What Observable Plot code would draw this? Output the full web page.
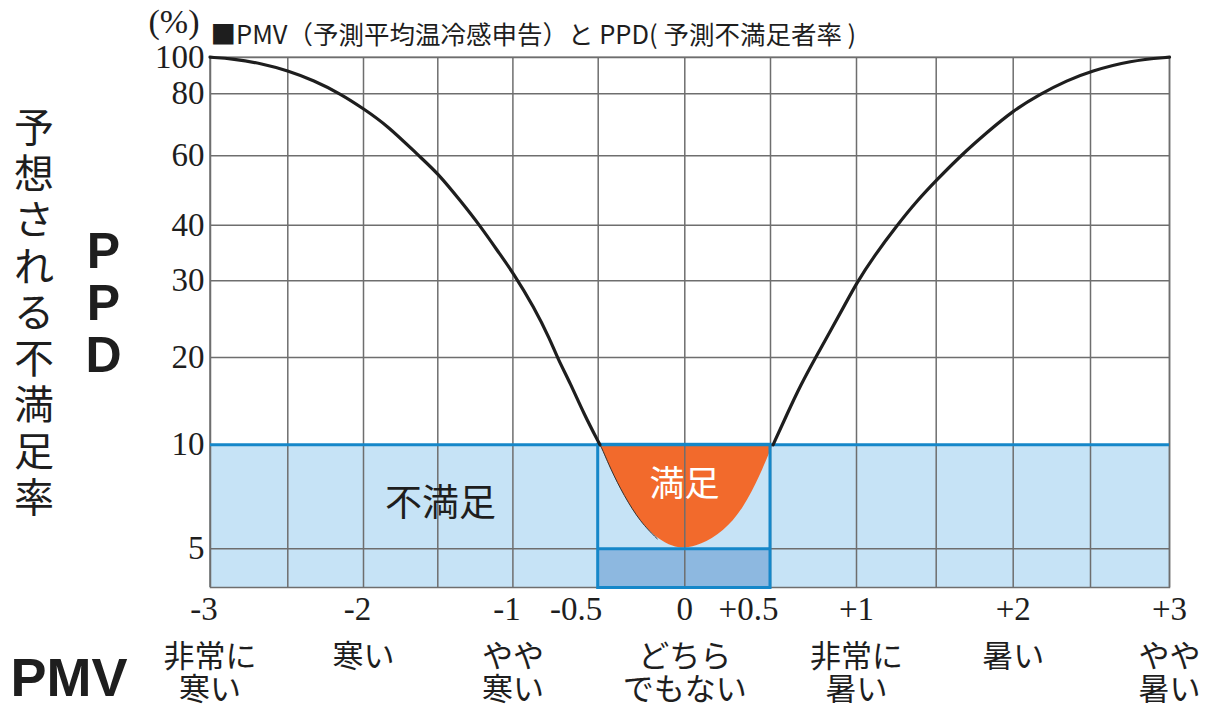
<!DOCTYPE html>
<html><head><meta charset="utf-8">
<script src="https://cdn.jsdelivr.net/npm/d3@7"></script>
<script src="https://cdn.jsdelivr.net/npm/@observablehq/plot@0.6"></script>
<style>body{margin:0;background:#fff;} svg{display:block}</style>
</head><body><div id="chart"></div>
<script>
// PMV–PPD curve
const pmv = [-3,-2.847,-2.676,-2.5,-2.328,-2.152,-2.0,-1.84,-1.628,-1.5,-1.349,-1.221,-1.082,-1.0,-0.877,-0.779,-0.74,-0.662,-0.584,-0.49,-0.477,-0.429,-0.352,-0.256,-0.159,-0.064,0,0.092,0.228,0.344,0.442,0.515,0.597,0.674,0.762,0.849,0.926,1.0,1.109,1.255,1.381,1.5,1.658,1.831,2.0,2.177,2.349,2.5,2.753,3];
const ppd = [100,99.1,96.7,92.7,87.3,80,75.2,69.8,60,55.0,47.0,40,34.6,31.5,26.6,22.2,20,17.0,13.55,10,9.81,8.85,7.56,6.28,5.48,5.08,5.0,5.16,5.8,6.92,8.52,10,13.55,16.8,20,23.5,26.6,29.7,34.4,40,47.1,52.9,60,67.6,74.6,80,87.3,92.3,98.2,100];

const gridPMV = [-3,-2.5,-2,-1.5,-1,-0.5,0,0.5,1,1.5,2,2.5,3];
const ppdTicks = [5,10,20,30,40,60,80,100];
const xTickValues = [-3,-2,-1,-0.5,0,0.5,1,2,3];
const xTickLabels = ["-3","-2","-1","-0.5","0","+0.5","+1","+2","+3"];
const categoryPMV = [-3,-2,-1,0,1,2,3];
const categoryLabels = ["非常に\n寒い","寒い","やや\n寒い","どちら\nでもない","非常に\n暑い","暑い","やや\n暑い"];
const comfortPMV = [-0.5, 0.5];
const comfortPPD = 10;
const minPPD = 5;

const titleText = "■PMV（予測平均温冷感申告）と PPD( 予測不満足者率 )";
const unitText = "(%)";
const yTitle = "予想される不満足率";

// scale layout (non-uniform axes of the original)
const xRange = [209.5, 287.3, 363, 437.3, 512.4, 597.7, 684.3, 770, 856, 935.7, 1012.7, 1090, 1169];
const yDomain = [0, ...ppdTicks];
const yRange = [587.5, 548.3, 444.3, 357, 280.3, 224.7, 155.3, 93.3, 56.7];

const curve = pmv.map((x, i) => ({pmv: x, ppd: ppd[i], side: x < 0 ? "L" : "R"}));
const outer = curve.filter(d => d.ppd >= comfortPPD);
const bowl = curve.filter(d => d.ppd <= comfortPPD);
const bowlLeft = bowl.filter(d => d.pmv <= -0.15);

const band = [{x1: gridPMV[0], x2: gridPMV[gridPMV.length - 1], y1: yDomain[0], y2: comfortPPD}];
const box = [{x1: comfortPMV[0], x2: comfortPMV[1], y1: yDomain[0], y2: comfortPPD}];
const boxLow = [{x1: comfortPMV[0], x2: comfortPMV[1], y1: yDomain[0], y2: minPPD}];

const xt = xTickValues.map((v, i) => ({v, label: xTickLabels[i]}));
const xtNeg = xt.filter(d => d.v < 0 && Number.isInteger(d.v));
const xtHalf = xt.filter(d => !Number.isInteger(d.v));
const xtRest = xt.filter(d => d.v >= 0 && Number.isInteger(d.v));
const cats = categoryPMV.map((v, i) => ({v, label: categoryLabels[i]}));

const GRID = "#6e6e6e", BLUE = "#1587c9", INK = "#1e1e1e";
const JP = "Noto Sans CJK JP", SERIF = "Liberation Serif", SANS = "Liberation Sans";

const chart = Plot.plot({
  width: 1205, height: 704,
  marginLeft: 210, marginRight: 36, marginTop: 57, marginBottom: 117,
  style: {background: "#fff", color: INK, fontFamily: SERIF},
  x: {type: "linear", domain: gridPMV, range: xRange, axis: null, label: null},
  y: {type: "linear", domain: yDomain, range: yRange, axis: null, label: null},
  marks: [
    Plot.rect(band, {x1: "x1", x2: "x2", y1: "y1", y2: "y2", fill: "#c6e3f6"}),
    Plot.rect(boxLow, {x1: "x1", x2: "x2", y1: "y1", y2: "y2", fill: "#8db8e0"}),
    Plot.areaY(bowl, {x: "pmv", y1: "ppd", y2: () => comfortPPD, curve: "basis", fill: "#f26a2c"}),
    Plot.ruleX(gridPMV, {stroke: GRID, strokeWidth: 1.5}),
    Plot.ruleY(ppdTicks, {stroke: GRID, strokeWidth: 1.5}),
    Plot.frame({stroke: GRID, strokeWidth: 1.5}),
    Plot.ruleY([comfortPPD], {stroke: BLUE, strokeWidth: 3}),
    Plot.rect(box, {x1: "x1", x2: "x2", y1: "y1", y2: "y2", fill: "none", stroke: BLUE, strokeWidth: 3}),
    Plot.ruleY([minPPD], {x1: comfortPMV[0], x2: comfortPMV[1], stroke: BLUE, strokeWidth: 3}),
    Plot.line(bowlLeft, {x: "pmv", y: "ppd", curve: "basis", stroke: "#333", strokeWidth: 1}),
    Plot.line(outer, {x: "pmv", y: "ppd", z: "side", curve: "basis", stroke: INK, strokeWidth: 3.2}),
    Plot.axisY(ppdTicks, {tickSize: 0, tickPadding: 6, fontSize: 33, fontFamily: SERIF, label: null, tickFormat: d => String(d)}),
    Plot.text(xtNeg, {x: "v", text: "label", frameAnchor: "bottom", dy: 22, dx: -6, lineAnchor: "middle", fontSize: 33, fontFamily: SERIF}),
    Plot.text(xtHalf, {x: "v", text: "label", frameAnchor: "bottom", dy: 22, dx: -22, lineAnchor: "middle", fontSize: 33, fontFamily: SERIF}),
    Plot.text(xtRest, {x: "v", text: "label", frameAnchor: "bottom", dy: 22, lineAnchor: "middle", fontSize: 33, fontFamily: SERIF}),
    Plot.text(cats, {x: "v", text: "label", frameAnchor: "bottom", dy: 56.4, lineAnchor: "top", lineHeight: 1.065, fontSize: 31, fontFamily: JP}),
    Plot.text([unitText], {frameAnchor: "top-left", dx: -62, dy: -25, textAnchor: "start", lineAnchor: "bottom", fontSize: 34, fontFamily: SERIF}),
    Plot.text([titleText], {frameAnchor: "top-left", dx: 0, dy: -14, textAnchor: "start", lineAnchor: "bottom", fontSize: 25.5, fontFamily: JP}),
    Plot.text([yTitle.split("").join("\n")], {frameAnchor: "top-left", dx: -176.5, dy: 51.7, textAnchor: "middle", lineAnchor: "top", lineHeight: 1.156, fontSize: 40, fontFamily: JP}),
    Plot.text(["P\nP\nD"], {frameAnchor: "top-left", dx: -107, dy: 174, textAnchor: "middle", lineAnchor: "top", lineHeight: 1.04, fontSize: 50, fontWeight: "bold", fontFamily: SANS}),
    Plot.text(["PMV"], {frameAnchor: "bottom-left", dx: -200, dy: 108, textAnchor: "start", lineAnchor: "bottom", fontSize: 54, fontWeight: "bold", fontFamily: SANS}),
    Plot.text(["不満足"], {frameAnchor: "top-left", dx: 230, dy: 447, textAnchor: "middle", lineAnchor: "middle", fontSize: 37, fontFamily: JP}),
    Plot.text(["満足"], {frameAnchor: "top-left", dx: 474, dy: 427.5, textAnchor: "middle", lineAnchor: "middle", fontSize: 35, fontFamily: JP, fill: "#fff"})
  ]
});
document.getElementById("chart").appendChild(chart);
</script>
</body></html>
